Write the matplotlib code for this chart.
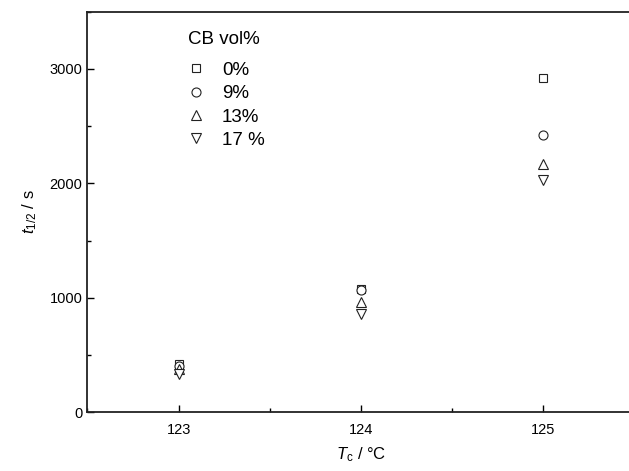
import matplotlib.pyplot as plt
from matplotlib.ticker import MultipleLocator

plt.rcParams['font.family'] = ['Liberation Sans', 'DejaVu Sans']
plt.rcParams['mathtext.fontset'] = 'custom'
plt.rcParams['mathtext.it'] = 'Liberation Sans:italic'
plt.rcParams['mathtext.rm'] = 'Liberation Sans'

# crystallization temperature, degC
tc = [123, 124, 125]
# half-time of crystallization (s) for each CB loading
t_half_0 = [420, 1080, 2920]
t_half_9 = [405, 1070, 2420]
t_half_13 = [375, 960, 2170]
t_half_17 = [330, 860, 2030]
labels = ['0%', '9%', '13%', '17 %']
markers = ['s', 'o', '^', 'v']

fig = plt.figure(figsize=(6.29, 4.71), dpi=100)
ax = fig.add_axes([0.139, 0.125, 0.87, 0.85])

for y, lab, m in zip([t_half_0, t_half_9, t_half_13, t_half_17], labels, markers):
    ax.plot(tc, y, linestyle='none', marker=m, markersize=6.5 if m != 's' else 5.2,
            markerfacecolor='white', markeredgecolor='#222222', markeredgewidth=0.8,
            label=lab)

ax.set_xlim(122.5, 125.5)
ax.set_ylim(0, 3500)
ax.xaxis.set_major_locator(MultipleLocator(1))
ax.xaxis.set_minor_locator(MultipleLocator(0.5))
ax.yaxis.set_major_locator(MultipleLocator(1000))
ax.yaxis.set_minor_locator(MultipleLocator(500))
ax.set_yticks([0, 1000, 2000, 3000])
ax.tick_params(which='both', direction='in', top=False, right=False, labelsize=10.5, width=1)
ax.tick_params(which='major', length=5)
ax.tick_params(which='minor', length=3)
ax.tick_params(axis='x', pad=8)
for s in ax.spines.values():
    s.set_linewidth(1.3)
    s.set_color('#222222')

ax.set_xlabel(r'$T_{\mathrm{c}}$ / $\mathregular{°C}$', fontsize=12, labelpad=6)
ax.set_ylabel(r'$t_{1/2}$ / s', fontsize=12, labelpad=8)

leg = ax.legend(title='CB vol%', loc='upper left', bbox_to_anchor=(0.16, 0.985),
                frameon=False, fontsize=13.5, title_fontsize=13.5, handlelength=0.8,
                handletextpad=1.0, labelspacing=0.33, borderaxespad=0.3,
                alignment='left')
leg._legend_box.sep = 10

fig.savefig('out.png', dpi=100)
